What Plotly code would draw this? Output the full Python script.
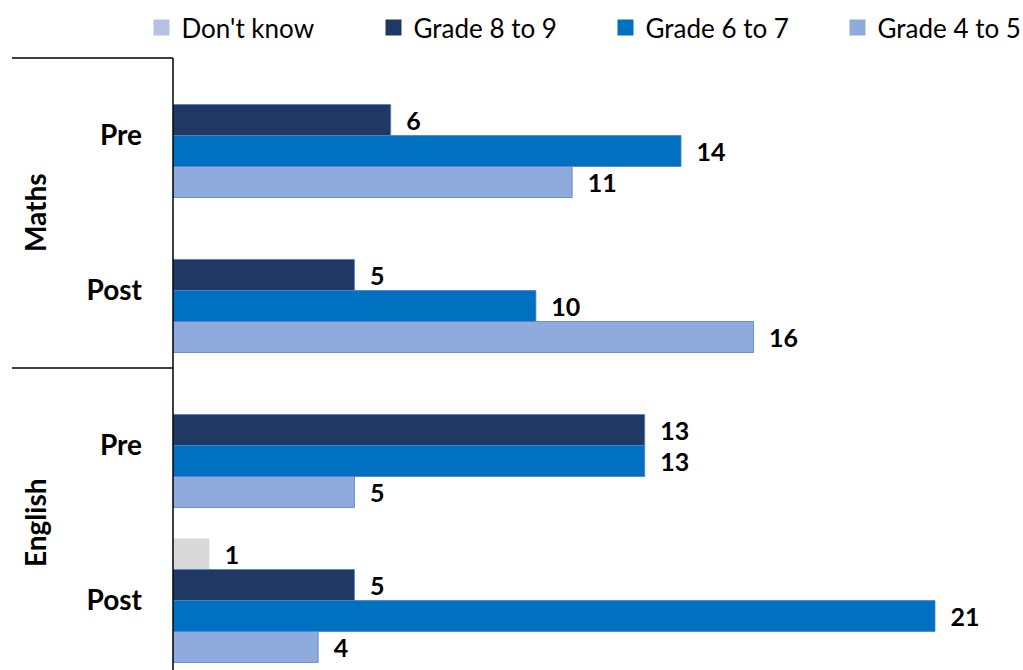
import plotly.graph_objects as go

categories = ["Pre", "Post", "Pre", "Post"]
subjects = ["Maths", "English"]
series_names = ["Don't know", "Grade 8 to 9", "Grade 6 to 7", "Grade 4 to 5"]
dont_know = [None, None, None, 1]
grade_8_9 = [6, 5, 13, 5]
grade_6_7 = [14, 10, 13, 21]
grade_4_5 = [11, 16, 5, 4]

FONT = "Lato"
bar_colors = {"Don't know": "#d9d9d9", "Grade 8 to 9": "#203864",
              "Grade 6 to 7": "#0070c0", "Grade 4 to 5": "#8faadc"}
legend_colors = {"Don't know": "#b4c2e2", "Grade 8 to 9": "#203864",
                 "Grade 6 to 7": "#0070c0", "Grade 4 to 5": "#8faadc"}

ypos = list(range(len(categories)))
fig = go.Figure()

# legend swatches (square markers, legend-only)
for name in series_names:
    fig.add_trace(go.Scatter(x=[None], y=[None], mode="markers", name=name,
                             marker=dict(symbol="square", size=16, color=legend_colors[name],
                                         line=dict(width=0)),
                             legendgroup=name, showlegend=True))

values = [dont_know, grade_8_9, grade_6_7, grade_4_5]
for name, vals in zip(series_names, values):
    is_dk = name == "Don't know"
    fig.add_trace(go.Bar(
        y=ypos, x=vals, orientation="h", name=name,
        marker=dict(color=bar_colors[name],
                    line=dict(color="#d9d9d9" if is_dk else "#4f7fcc", width=0 if is_dk else 0.8)),
        text=[("" if v is None else str(v)) for v in vals],
        textposition="outside", cliponaxis=False, constraintext="none",
        textfont=dict(family=FONT, size=25, color="black", weight="bold"),
        texttemplate="\u2002%{text}",
        showlegend=False, legendgroup=name,
    ))

W, H = 1023, 670
L, T, R, B = 173, 58, 10, 0
pitch = 155.0
plot_w = W - L - R
plot_h = H - T - B
span = plot_h / pitch
px_per_unit = (935 - 173) / 21.0
xmax = plot_w / px_per_unit

fig.update_layout(
    width=W, height=H,
    margin=dict(l=L, r=R, t=T, b=B, pad=0, autoexpand=False),
    barmode="group", bargap=0.2, bargroupgap=0,
    plot_bgcolor="white", paper_bgcolor="white",
    font=dict(family=FONT, color="black"),
    legend=dict(orientation="h", xref="paper", x=(141.5 - L) / plot_w, xanchor="left",
                yref="paper", y=1 + (T - 4) / plot_h, yanchor="top",
                font=dict(family=FONT, size=26, color="black"),
                itemwidth=30, traceorder="normal",
                entrywidth=187, entrywidthmode="pixels"),
    xaxis=dict(range=[0, xmax], showgrid=False, showticklabels=False, zeroline=False,
               showline=False, ticks=""),
    yaxis=dict(range=[-0.5 + span, -0.5], tickvals=ypos, ticktext=categories,
               tickfont=dict(family=FONT, size=28, color="black", weight="bold"),
               showgrid=False, zeroline=False, showline=False, ticks="", ticklabelstandoff=30),
)

# axis line and group separators (Excel multi-level category axis style)
fig.add_shape(type="line", xref="paper", yref="paper", x0=0, x1=0, y0=0, y1=1,
              line=dict(color="black", width=1.5))
nsub = len(subjects)
per = len(categories) // nsub
for i, subj in enumerate(subjects):
    top = -0.5 + i * per
    ytop_paper = 1 - (top + 0.5) / span
    fig.add_shape(type="line", xref="paper", yref="paper",
                  x0=-(L - 12) / plot_w, x1=0, y0=ytop_paper, y1=ytop_paper,
                  line=dict(color="black", width=1.5))
    mid = top + per / 2
    fig.add_annotation(text=subj, xref="paper", yref="y", x=-(L - 35) / plot_w, y=mid,
                       textangle=-90, showarrow=False, xanchor="center", yanchor="middle",
                       font=dict(family=FONT, size=28, color="black", weight="bold"))

fig.write_html("out.html")
